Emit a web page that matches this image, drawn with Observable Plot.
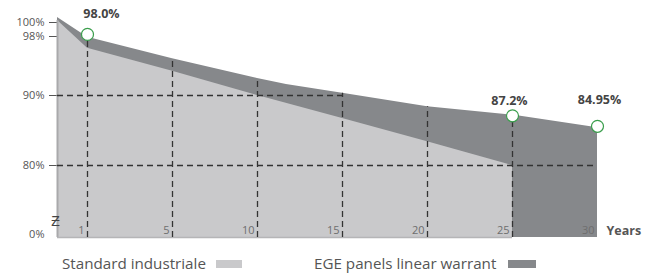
<!DOCTYPE html>
<html>
<head>
<meta charset="utf-8">
<script src="https://cdn.jsdelivr.net/npm/d3@7"></script>
<script src="https://cdn.jsdelivr.net/npm/@observablehq/plot@0.6"></script>
<style>
  html, body { margin: 0; padding: 0; background: #fff; }
  body { font-family: "Open Sans", sans-serif; width: 654px; }
  #chart svg { display: block; }
  #legend { position: relative; width: 654px; height: 28px; color: #555; font-size: 15.2px; }
  #legend span.t { position: absolute; top: 9px; line-height: 16px; white-space: nowrap; }
  #legend span.s { position: absolute; top: 14px; height: 8px; }
</style>
</head>
<body>
<div id="chart"></div>
<div id="legend"></div>
<script>
// ---- data ----
const seriesNames = ["Standard industriale", "EGE panels linear warrant"];
const seriesColors = ["#c9c9cb", "#86888b"];

const darkYears  = [0, 1, 5, 10, 11.7, 15, 20, 25, 30];
const darkValues = [100.7, 97.9, 95.0, 92.3, 91.5, 90.3, 88.4, 87.2, 85.4];

const lightYears  = [0, 1, 5, 10, 15, 20, 25];
const lightValues = [100.3, 96.4, 93.3, 90.0, 86.7, 83.4, 80.0];

const markerYears  = [1, 25, 30];
const markerValues = [98.3, 87.1, 85.6];
const markerLabels = ["98.0%", "87.2%", "84.95%"];

const xTickYears  = [1, 5, 10, 15, 20, 25, 30];
const xTickLabels = ["1", "5", "10", "15", "20", "25", "30"];
const gridYears   = [1, 5, 10, 15, 20, 25];
const yTickValues = [80, 90, 98, 100];
const gridValues  = [80, 90];
const gridEnds    = [30, 15];

// ---- tables ----
const dark  = darkYears.map((year, i) => ({year, value: darkValues[i]}));
const light = lightYears.map((year, i) => ({year, value: lightValues[i]}));
const markers = markerYears.map((year, i) => ({year, value: markerValues[i], label: markerLabels[i]}));
const xticks = xTickYears.map((year, i) => ({year, label: xTickLabels[i]}));
const darkAt = y => dark.find(d => d.year === y).value;
const hgrid = gridValues.map((v, i) => ({v, end: gridEnds[i]}));

const dash = "6,4";
const chart = Plot.plot({
  width: 654,
  height: 246,
  marginLeft: 57,
  marginTop: 0,
  marginBottom: 0,
  marginRight: 0,
  style: {fontFamily: "Open Sans, sans-serif", fontSize: "11px", color: "#555", background: "transparent"},
  x: {type: "linear", domain: [0, 1, 5, 30], range: [57, 87, 172, 597], axis: null},
  y: {type: "linear", domain: [0, 80, 90, 98, 100], range: [237, 165, 95, 36, 22],
      axis: "left", ticks: yTickValues, tickFormat: d => d + "%", tickSize: 8, tickPadding: 5, label: null},
  marks: [
    Plot.areaY(dark, {x: "year", y: "value", fill: seriesColors[1]}),
    Plot.areaY(light, {x: "year", y: "value", fill: seriesColors[0]}),
    Plot.ruleX([0], {y1: 0, y2: lightValues[0], stroke: "#a9a9ab", strokeWidth: 2}),
    Plot.ruleY([0], {x1: 0, x2: 25, stroke: "#b5b5b7", strokeWidth: 1.5}),
    Plot.ruleX(gridYears, {x: d => d, y1: 0, y2: d => darkAt(d), stroke: "#333", strokeWidth: 1.3, strokeDasharray: dash}),
    Plot.ruleY(hgrid, {y: "v", x1: 0, x2: "end", stroke: "#333", strokeWidth: 1.3, strokeDasharray: dash}),
    Plot.text([0], {y: d => d, frameAnchor: "left", text: () => "0%", textAnchor: "end", dx: -13, dy: -3, fill: "#555", fontSize: 11}),
    Plot.text([0], {x: d => d, y: d => d, text: () => "Ƶ", textAnchor: "middle", dx: -2, dy: -16, fill: "#444", fontSize: 14}),
    Plot.text(xticks, {x: "year", y: () => 0, text: "label", textAnchor: "end", dx: -3, dy: -7, fill: "#6e6e6e", fontSize: 11}),
    Plot.text([30], {x: d => d, y: () => 0, text: () => "Years", textAnchor: "start", dx: 9, dy: -7, fill: "#555", fontSize: 12.5, fontWeight: "bold"}),
    Plot.dot(markers, {x: "year", y: "value", r: 6, fill: "white", stroke: "#3a9e4c", strokeWidth: 1.2}),
    Plot.text([markers[0]], {x: "year", y: "value", text: "label", dx: 14, dy: -20, fill: "#444", fontSize: 12.5, fontWeight: "bold"}),
    Plot.text([markers[1]], {x: "year", y: "value", text: "label", dx: -3, dy: -15, fill: "#444", fontSize: 12.5, fontWeight: "bold"}),
    Plot.text([markers[2]], {x: "year", y: "value", text: "label", dx: 2, dy: -26, fill: "#444", fontSize: 12.5, fontWeight: "bold"})
  ]
});
document.getElementById("chart").appendChild(chart);

// ---- legend ----
const legend = document.getElementById("legend");
const items = [
  {textLeft: 62, swatchLeft: 216, swatchWidth: 26},
  {textLeft: 314, swatchLeft: 508, swatchWidth: 28}
];
seriesNames.forEach((name, i) => {
  const t = document.createElement("span");
  t.className = "t";
  t.style.left = items[i].textLeft + "px";
  t.textContent = name;
  legend.appendChild(t);
  const s = document.createElement("span");
  s.className = "s";
  s.style.left = items[i].swatchLeft + "px";
  s.style.width = items[i].swatchWidth + "px";
  s.style.background = seriesColors[i];
  legend.appendChild(s);
});
</script>
</body>
</html>
